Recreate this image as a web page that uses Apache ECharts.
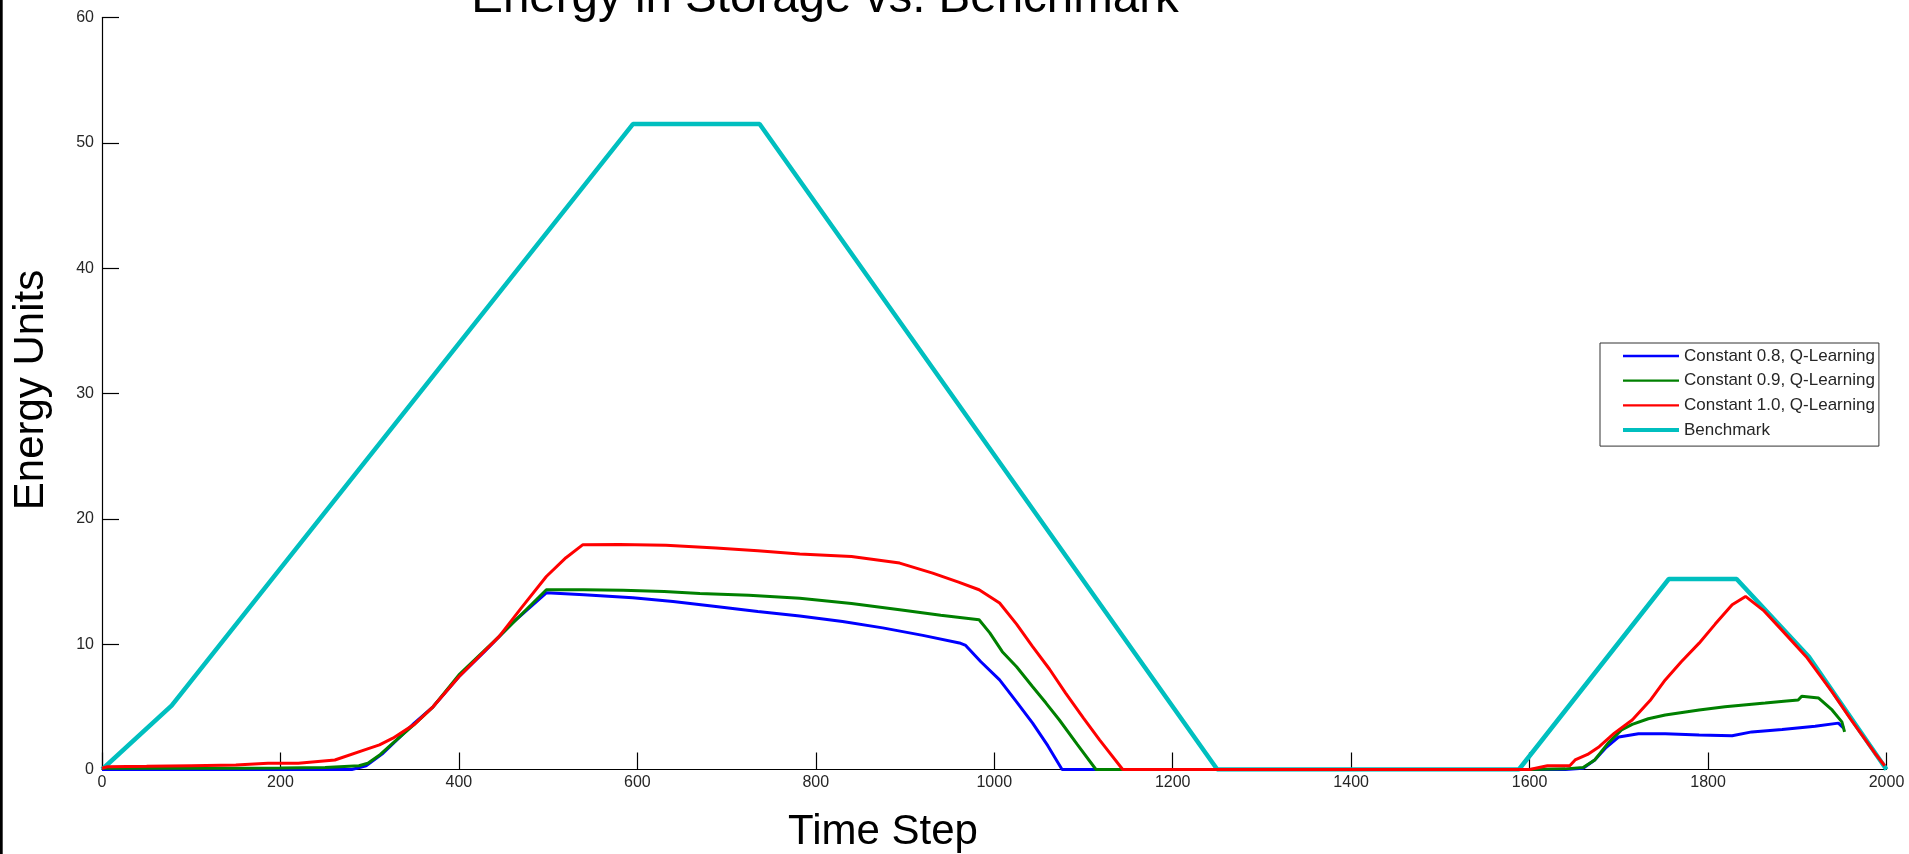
<!DOCTYPE html>
<html>
<head>
<meta charset="utf-8">
<title>Energy in Storage vs. Benchmark</title>
<script src="https://cdn.jsdelivr.net/npm/echarts@6/dist/echarts.min.js"></script>
<style>
  html, body { margin: 0; padding: 0; background: #ffffff; }
  #chart { width: 1909px; height: 854px; }
</style>
</head>
<body>
<div id="chart"></div>
<script>
// Axis ticks
const xTicks = [0, 200, 400, 600, 800, 1000, 1200, 1400, 1600, 1800, 2000];
const yTicks = [0, 10, 20, 30, 40, 50, 60];

// Constant 0.8, Q-Learning
const stepsQ08 = [0, 50, 100, 150, 200, 250, 280, 296, 315, 334, 350, 371, 400, 430, 460, 498, 540, 595, 640, 688, 735, 782, 830, 875, 920, 961, 968, 985, 1006, 1025, 1043, 1060, 1076, 1100, 1300, 1500, 1640, 1660, 1673, 1685, 1700, 1722, 1752, 1790, 1827, 1849, 1883, 1920, 1946, 1952];
const energyQ08 = [0, 0, 0, 0, 0, 0, 0, 0.3, 1.3, 2.6, 3.7, 5.0, 7.4, 9.5, 11.7, 14.1, 13.95, 13.7, 13.4, 13.0, 12.6, 12.25, 11.8, 11.3, 10.7, 10.1, 9.9, 8.6, 7.15, 5.4, 3.7, 1.9, 0, 0, 0, 0, 0, 0.1, 0.76, 1.7, 2.6, 2.85, 2.85, 2.75, 2.7, 3.0, 3.2, 3.45, 3.7, 3.3];

// Constant 0.9, Q-Learning
const stepsQ09 = [0, 50, 100, 150, 200, 250, 288, 298, 312, 326, 350, 371, 400, 445, 498, 540, 584, 630, 670, 725, 782, 840, 894, 940, 983, 995, 1009, 1025, 1043, 1058, 1073, 1093, 1114, 1300, 1600, 1640, 1660, 1673, 1688, 1703, 1715, 1733, 1752, 1790, 1819, 1864, 1885, 1901, 1905, 1924, 1939, 1950, 1953];
const energyQ09 = [0.1, 0.1, 0.1, 0.1, 0.12, 0.15, 0.3, 0.5, 1.2, 2.1, 3.6, 5.0, 7.55, 10.6, 14.34, 14.34, 14.3, 14.2, 14.05, 13.9, 13.67, 13.25, 12.75, 12.3, 11.95, 10.9, 9.4, 8.2, 6.6, 5.3, 3.95, 2.0, 0, 0, 0, 0.05, 0.15, 0.76, 2.1, 3.16, 3.6, 4.05, 4.35, 4.75, 5.0, 5.3, 5.45, 5.55, 5.85, 5.7, 4.75, 3.8, 3.0];

// Constant 1.0, Q-Learning
const stepsQ10 = [0, 6, 50, 100, 150, 186, 220, 261, 296, 311, 326, 350, 371, 400, 445, 470, 498, 520, 539, 580, 632, 688, 735, 782, 840, 894, 931, 960, 983, 1006, 1025, 1043, 1062, 1080, 1100, 1118, 1144, 1300, 1600, 1620, 1645, 1651, 1665, 1678, 1695, 1715, 1735, 1752, 1770, 1790, 1808, 1827, 1842, 1862, 1883, 1910, 1939, 1960, 1976, 1987, 1998];
const energyQ10 = [0.1, 0.22, 0.25, 0.3, 0.35, 0.5, 0.5, 0.76, 1.6, 1.96, 2.5, 3.6, 5.0, 7.4, 10.6, 12.9, 15.4, 16.9, 17.94, 17.95, 17.9, 17.67, 17.45, 17.2, 17.0, 16.47, 15.67, 14.95, 14.34, 13.28, 11.6, 9.8, 8.0, 6.1, 4.1, 2.36, 0, 0, 0, 0.3, 0.3, 0.76, 1.2, 1.82, 2.9, 3.95, 5.5, 7.15, 8.6, 10.08, 11.6, 13.14, 13.81, 12.7, 11.1, 9.0, 6.2, 4.0, 2.4, 1.3, 0.3];

// Benchmark
const stepsBench = [0, 78, 595, 737, 1250, 1588, 1756, 1832, 1913, 2000];
const energyBench = [0, 5.1, 51.5, 51.5, 0, 0, 15.2, 15.2, 9.0, 0];

const seriesNames = ['Constant 0.8, Q-Learning', 'Constant 0.9, Q-Learning', 'Constant 1.0, Q-Learning', 'Benchmark'];
const seriesColors = ['#0000ff', '#008000', '#ff0000', '#00bfbf'];
const legendLineWidths = [2.3, 2.3, 2.3, 4];

const zip = (xs, ys) => xs.map((x, i) => [x, ys[i]]);

const FONT = '"Liberation Sans", Arial, Helvetica, sans-serif';
const chart = echarts.init(document.getElementById('chart'), null, { renderer: 'canvas' });

const lineSeries = (name, color, xs, ys, width, z) => ({
  name: name,
  type: 'line',
  data: zip(xs, ys),
  symbol: 'none',
  showSymbol: false,
  animation: false,
  z: z,
  lineStyle: { color: color, width: width },
  itemStyle: { color: color }
});

chart.setOption({
  backgroundColor: '#ffffff',
  animation: false,
  grid: { left: 102, right: 22.5, top: 17.5, bottom: 84.5, containLabel: false },
  xAxis: {
    type: 'value',
    min: xTicks[0],
    max: xTicks[xTicks.length - 1],
    interval: xTicks[1] - xTicks[0],
    axisLine: { show: true, onZero: false, lineStyle: { color: '#000000', width: 1.2 } },
    axisTick: { show: true, inside: true, length: 17, lineStyle: { color: '#000000', width: 1.2 } },
    axisLabel: { fontFamily: FONT, fontSize: 16, color: '#262626', margin: 5, formatter: (v) => String(v) },
    splitLine: { show: false }
  },
  yAxis: {
    type: 'value',
    min: yTicks[0],
    max: yTicks[yTicks.length - 1],
    interval: yTicks[1] - yTicks[0],
    axisLine: { show: true, lineStyle: { color: '#000000', width: 1.2 } },
    axisTick: { show: true, inside: true, length: 17, lineStyle: { color: '#000000', width: 1.2 } },
    axisLabel: { fontFamily: FONT, fontSize: 16, color: '#262626', margin: 8, formatter: (v) => String(v) },
    splitLine: { show: false }
  },
  legend: {
    data: seriesNames.map((name, i) => ({
      name: name,
      lineStyle: { color: seriesColors[i], width: legendLineWidths[i] }
    })),
    orient: 'vertical',
    left: 1600,
    top: 343,
    padding: [3, 4, 6, 21],
    itemWidth: 56,
    itemHeight: 14,
    itemGap: 4.7,
    backgroundColor: '#ffffff',
    borderColor: '#333333',
    borderWidth: 1,
    borderRadius: 0,
    selectedMode: false,
    itemStyle: { color: 'rgba(0,0,0,0)', borderWidth: 0, opacity: 0 },
    textStyle: { fontFamily: FONT, fontSize: 17, color: '#262626', lineHeight: 20 }
  },
  series: [
    lineSeries(seriesNames[0], seriesColors[0], stepsQ08, energyQ08, 3, 3),
    lineSeries(seriesNames[1], seriesColors[1], stepsQ09, energyQ09, 3, 3),
    lineSeries(seriesNames[2], seriesColors[2], stepsQ10, energyQ10, 3, 3),
    lineSeries(seriesNames[3], seriesColors[3], stepsBench, energyBench, 4.5, 2)
  ],
  graphic: [
    {
      type: 'rect',
      shape: { x: 0, y: 0, width: 2.7, height: 854 },
      style: { fill: '#000000' },
      silent: true
    },
    {
      type: 'text',
      x: 825, y: -1.5,
      style: { text: 'Energy in Storage vs. Benchmark', fontFamily: FONT, fontSize: 47.5, fill: '#000000', textAlign: 'center', textVerticalAlign: 'middle' },
      silent: true
    },
    {
      type: 'text',
      x: 883, y: 832,
      style: { text: 'Time Step', fontFamily: FONT, fontSize: 42, fill: '#000000', textAlign: 'center', textVerticalAlign: 'middle' },
      silent: true
    },
    {
      type: 'text',
      x: 31, y: 390,
      rotation: Math.PI / 2,
      style: { text: 'Energy Units', fontFamily: FONT, fontSize: 42, fill: '#000000', textAlign: 'center', textVerticalAlign: 'middle' },
      silent: true
    }
  ]
});
</script>
</body>
</html>
